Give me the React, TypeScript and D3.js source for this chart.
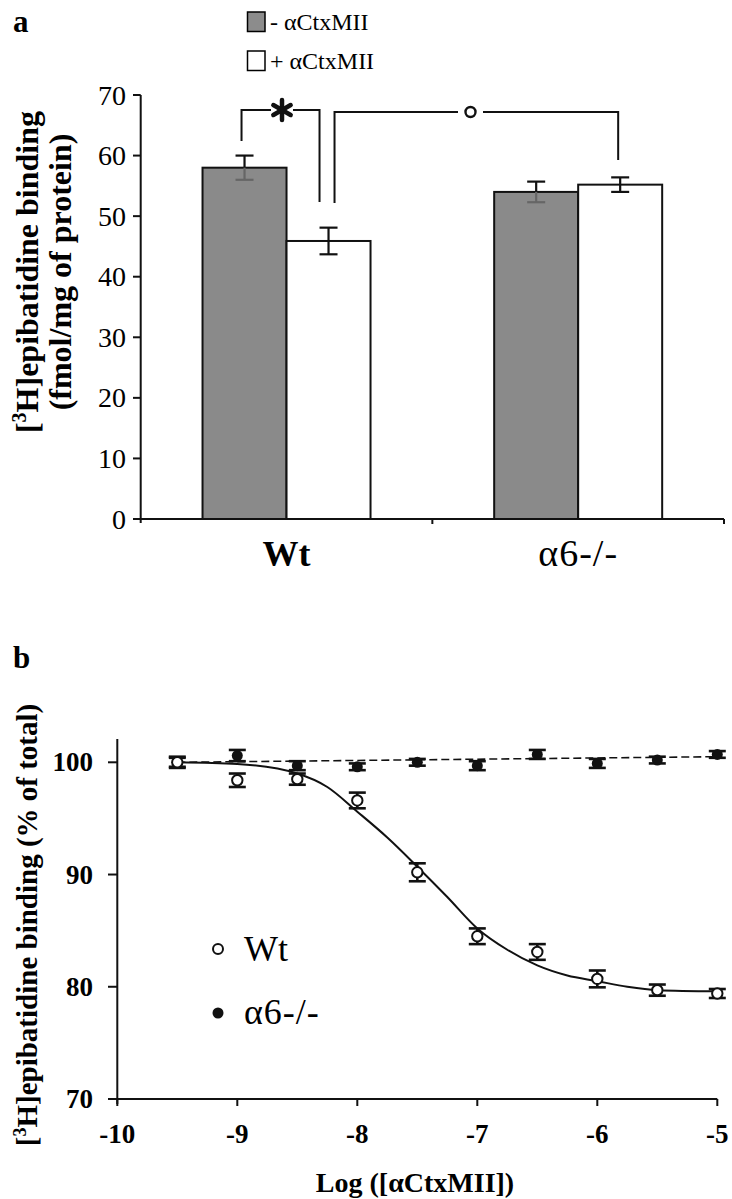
import React from "react";
import * as d3 from "d3";

// ---------- Panel a data ----------
const groups = ["Wt", "α6-/-"];
const treatments = ["- αCtxMII", "+ αCtxMII"];
const minusMeans = [58.0, 54.0];
const minusErr = [2.0, 1.7];
const plusMeans = [45.9, 55.2];
const plusErr = [2.2, 1.2];
const yTicksA = [0, 10, 20, 30, 40, 50, 60, 70];

// ---------- Panel b data ----------
const logConc = [-9.5, -9, -8.5, -8, -7.5, -7, -6.5, -6, -5.5, -5];
const wtBinding = [100.0, 98.4, 98.5, 96.6, 90.2, 84.5, 83.1, 80.7, 79.7, 79.4];
const wtErr = [0.5, 0.6, 0.5, 0.7, 0.8, 0.7, 0.7, 0.75, 0.5, 0.4];
const koBinding = [100.0, 100.6, 99.7, 99.6, 100.0, 99.7, 100.7, 99.9, 100.2, 100.7];
const koErr = [0.4, 0.5, 0.4, 0.3, 0.3, 0.4, 0.4, 0.4, 0.3, 0.3];
// fitted curves
const fitLogConc = [-9.5, -9, -8.5, -8.25, -8, -7.75, -7.5, -7.25, -7, -6.75, -6.5, -6.25, -6, -5.75, -5.5, -5];
const wtFit = [100.0, 99.85, 99.0, 97.8, 95.6, 93.3, 90.7, 88.0, 85.2, 83.3, 81.9, 81.0, 80.5, 80.0, 79.7, 79.6];
const koFitX = [-9.5, -5];
const koFit = [100.0, 100.5];
const xTicksB = [-10, -9, -8, -7, -6, -5];
const yTicksB = [70, 80, 90, 100];
const legendB = ["Wt", "α6-/-"];

const SERIF = "'Liberation Serif', 'Times New Roman', serif";

export default function App() {
  // ----- Panel a scales -----
  const xA = d3.scaleBand<string>().domain(groups).range([140.7, 724]);
  const yA = d3.scaleLinear().domain([0, 70]).range([519, 95]);
  const barW = 84;
  const centerOf = (g: string) => (xA(g) as number) + xA.bandwidth() / 2;
  const minusX = (i: number) => centerOf(groups[i]) - barW;
  const plusX = (i: number) => centerOf(groups[i]);

  // ----- Panel b scales -----
  const xB = d3.scaleLinear().domain([-10, -5]).range([117.3, 717.3]);
  const yB = d3.scaleLinear().domain([70, 100]).range([1099, 762.3]);
  const line = d3
    .line<number>()
    .x((_, i) => xB(fitLogConc[i]))
    .y((d) => yB(d))
    .curve(d3.curveMonotoneX);
  const koLine = d3
    .line<number>()
    .x((_, i) => xB(koFitX[i]))
    .y((d) => yB(d));

  const capW = 18;
  const capWB = 17;

  const wtMinusC = minusX(0) + barW / 2;
  const wtPlusC = plusX(0) + barW / 2;
  const koPlusC = plusX(1) + barW / 2;

  const starX = 282;
  const starY = 110;
  const starR = 10;

  return (
    <svg
      width={732}
      height={1199}
      style={{ position: "absolute", left: 0, top: 0, background: "#fff" }}
      fontFamily={SERIF}
    >
      <rect x={0} y={0} width={732} height={1199} fill="#fff" />
      {/* ================= Panel a ================= */}
      <text x={13} y={32} fontSize={31} fontWeight="bold">a</text>

      {/* legend */}
      <rect x={247.5} y={12} width={17.5} height={19.5} fill="#8c8c8c" stroke="#000" strokeWidth={1.5} />
      <text x={270} y={30} fontSize={24}>{treatments[0]}</text>
      <rect x={247.5} y={51} width={17.5} height={19.5} fill="#fff" stroke="#000" strokeWidth={1.5} />
      <text x={270} y={69} fontSize={24}>{treatments[1]}</text>

      {/* bars */}
      {groups.map((g, i) => (
        <g key={g}>
          <rect
            x={minusX(i)}
            y={yA(minusMeans[i])}
            width={barW}
            height={yA(0) - yA(minusMeans[i])}
            fill="#8a8a8a"
            stroke="#111"
            strokeWidth={2}
          />
          <rect
            x={plusX(i)}
            y={yA(plusMeans[i])}
            width={barW}
            height={yA(0) - yA(plusMeans[i])}
            fill="#fff"
            stroke="#111"
            strokeWidth={2}
          />
          <g strokeWidth={2.2}>
            <line x1={minusX(i) + barW / 2} x2={minusX(i) + barW / 2} y1={yA(minusMeans[i] + minusErr[i])} y2={yA(minusMeans[i])} stroke="#111" />
            <line x1={minusX(i) + barW / 2 - capW / 2} x2={minusX(i) + barW / 2 + capW / 2} y1={yA(minusMeans[i] + minusErr[i])} y2={yA(minusMeans[i] + minusErr[i])} stroke="#111" />
            <line x1={minusX(i) + barW / 2} x2={minusX(i) + barW / 2} y1={yA(minusMeans[i])} y2={yA(minusMeans[i] - minusErr[i])} stroke="#666" />
            <line x1={minusX(i) + barW / 2 - capW / 2} x2={minusX(i) + barW / 2 + capW / 2} y1={yA(minusMeans[i] - minusErr[i])} y2={yA(minusMeans[i] - minusErr[i])} stroke="#666" />
          </g>
          <g strokeWidth={2.2} stroke="#111">
            <line x1={plusX(i) + barW / 2} x2={plusX(i) + barW / 2} y1={yA(plusMeans[i] + plusErr[i])} y2={yA(plusMeans[i] - plusErr[i])} />
            <line x1={plusX(i) + barW / 2 - capW / 2} x2={plusX(i) + barW / 2 + capW / 2} y1={yA(plusMeans[i] + plusErr[i])} y2={yA(plusMeans[i] + plusErr[i])} />
            <line x1={plusX(i) + barW / 2 - capW / 2} x2={plusX(i) + barW / 2 + capW / 2} y1={yA(plusMeans[i] - plusErr[i])} y2={yA(plusMeans[i] - plusErr[i])} />
          </g>
        </g>
      ))}

      {/* significance brackets */}
      <g fill="none" stroke="#111" strokeWidth={2}>
        <polyline points={`${wtMinusC - 3},${141} ${wtMinusC - 3},${110} ${wtPlusC - 9},${110} ${wtPlusC - 9},${202}`} />
        <polyline points={`${wtPlusC + 6},${203} ${wtPlusC + 6},${112} ${458},${112}`} />
        <polyline points={`${483},${112} ${koPlusC - 2},${112} ${koPlusC - 2},${160}`} />
      </g>
      <rect x={starX - 11} y={starY - 11} width={22} height={22} fill="#fff" />
      <g stroke="#111" strokeWidth={4.5} strokeLinecap="round">
        {[90, 30, -30].map((a) => (
          <line
            key={a}
            x1={starX - starR * Math.cos((a * Math.PI) / 180)}
            y1={starY - starR * Math.sin((a * Math.PI) / 180)}
            x2={starX + starR * Math.cos((a * Math.PI) / 180)}
            y2={starY + starR * Math.sin((a * Math.PI) / 180)}
          />
        ))}
      </g>
      <circle cx={470.5} cy={112} r={5} fill="#fff" stroke="#111" strokeWidth={2.4} />

      {/* axes a */}
      <g stroke="#111" strokeWidth={2}>
        <line x1={140.7} x2={140.7} y1={yA(70)} y2={yA(0) + 4} />
        <line x1={140.7} x2={724} y1={yA(0)} y2={yA(0)} />
        {yTicksA.map((t) => (
          <line key={t} x1={133} x2={140.7} y1={yA(t)} y2={yA(t)} />
        ))}
        {[xA.range()[0] + xA.bandwidth(), xA.range()[1]].map((x, i) => (
          <line key={i} x1={x} x2={x} y1={yA(0)} y2={yA(0) + 5} />
        ))}
      </g>
      {yTicksA.map((t) => (
        <text key={t} x={126} y={yA(t) + 9.5} fontSize={28} textAnchor="end">{t}</text>
      ))}
      <text x={centerOf(groups[0])} y={566} fontSize={36} fontWeight="bold" textAnchor="middle">{groups[0]}</text>
      <text x={centerOf(groups[1])} y={566} fontSize={38} textAnchor="middle" letterSpacing={1}>{groups[1]}</text>
      <g fontSize={32} fontWeight="bold" textAnchor="middle">
        <text transform={`translate(38,272) rotate(-90)`}>
          [<tspan fontSize={20} dy={-12}>3</tspan><tspan dy={12}>H]epibatidine binding</tspan>
        </text>
        <text transform={`translate(71,272) rotate(-90)`}>(fmol/mg of protein)</text>
      </g>

      {/* ================= Panel b ================= */}
      <text x={13} y={668} fontSize={31} fontWeight="bold">b</text>

      {/* fits */}
      <path d={line(wtFit) || ""} fill="none" stroke="#111" strokeWidth={2} />
      <path d={koLine(koFit) || ""} fill="none" stroke="#111" strokeWidth={1.6} strokeDasharray="8,4" />

      {/* error bars & markers */}
      <g stroke="#111" strokeWidth={2.6}>
        {logConc.map((c, i) => (
          <g key={"kw" + i}>
            <line x1={xB(c)} x2={xB(c)} y1={yB(wtBinding[i] + wtErr[i])} y2={yB(wtBinding[i] - wtErr[i])} />
            <line x1={xB(c) - capWB / 2} x2={xB(c) + capWB / 2} y1={yB(wtBinding[i] + wtErr[i])} y2={yB(wtBinding[i] + wtErr[i])} />
            <line x1={xB(c) - capWB / 2} x2={xB(c) + capWB / 2} y1={yB(wtBinding[i] - wtErr[i])} y2={yB(wtBinding[i] - wtErr[i])} />
            <line x1={xB(c)} x2={xB(c)} y1={yB(koBinding[i] + koErr[i])} y2={yB(koBinding[i] - koErr[i])} />
            <line x1={xB(c) - capWB / 2} x2={xB(c) + capWB / 2} y1={yB(koBinding[i] + koErr[i])} y2={yB(koBinding[i] + koErr[i])} />
            <line x1={xB(c) - capWB / 2} x2={xB(c) + capWB / 2} y1={yB(koBinding[i] - koErr[i])} y2={yB(koBinding[i] - koErr[i])} />
          </g>
        ))}
      </g>
      {logConc.map((c, i) => (
        <circle key={"ko" + i} cx={xB(c)} cy={yB(koBinding[i])} r={5.5} fill="#111" />
      ))}
      {logConc.map((c, i) => (
        <circle key={"wt" + i} cx={xB(c)} cy={yB(wtBinding[i])} r={5.2} fill="#fff" stroke="#111" strokeWidth={2} />
      ))}

      {/* legend b */}
      <circle cx={218} cy={949} r={5} fill="#fff" stroke="#111" strokeWidth={2} />
      <text x={244} y={961} fontSize={36}>{legendB[0]}</text>
      <circle cx={218} cy={1013} r={5.5} fill="#111" />
      <text x={244} y={1024} fontSize={36} letterSpacing={1}>{legendB[1]}</text>

      {/* axes b */}
      <g stroke="#111" strokeWidth={2}>
        <line x1={xB(-10)} x2={xB(-10)} y1={739} y2={yB(70) + 5} />
        <line x1={xB(-10) - 8} x2={xB(-5)} y1={yB(70)} y2={yB(70)} />
        {yTicksB.map((t) => (
          <line key={t} x1={108} x2={xB(-10)} y1={yB(t)} y2={yB(t)} />
        ))}
        {xTicksB.map((t) => (
          <line key={t} x1={xB(t)} x2={xB(t)} y1={yB(70)} y2={yB(70) + 7} />
        ))}
      </g>
      {yTicksB.map((t) => (
        <text key={t} x={93} y={yB(t) + 9} fontSize={27} fontWeight="bold" textAnchor="end">{t}</text>
      ))}
      {xTicksB.map((t) => (
        <text key={t} x={xB(t)} y={1143} fontSize={27} fontWeight="bold" textAnchor="middle">{t}</text>
      ))}
      <text x={415} y={1192} fontSize={28} fontWeight="bold" textAnchor="middle">Log ([αCtxMII])</text>
      <text transform={`translate(37,925) rotate(-90)`} fontSize={29} fontWeight="bold" textAnchor="middle">
        [<tspan fontSize={18} dy={-11}>3</tspan><tspan dy={11}>H]epibatidine binding (% of total)</tspan>
      </text>
    </svg>
  );
}
